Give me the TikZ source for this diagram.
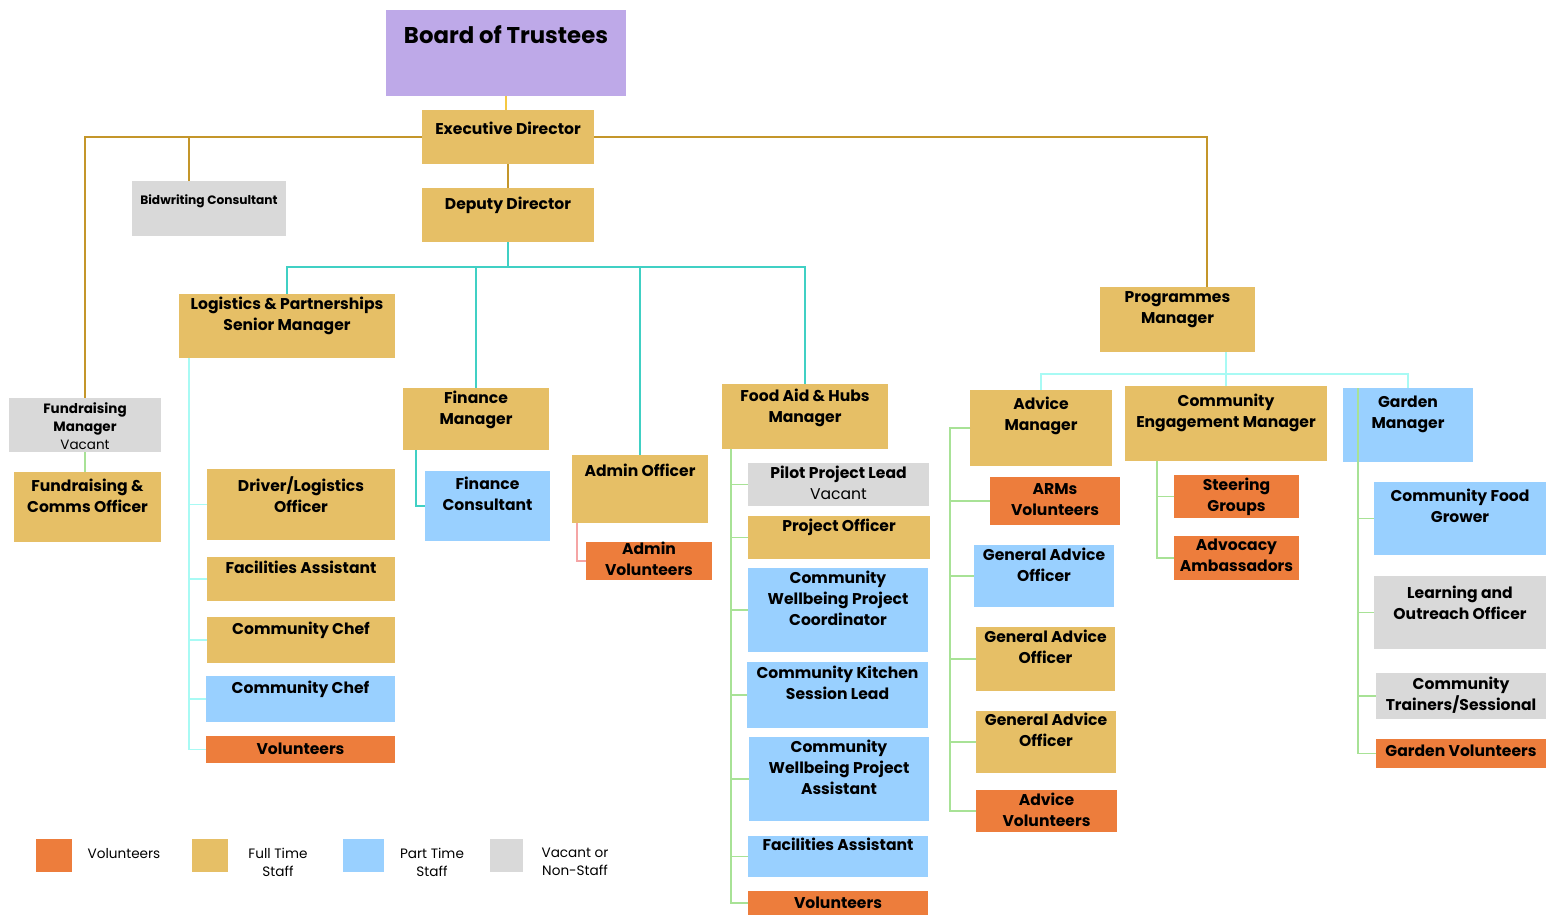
\documentclass[tikz,border=0pt]{standalone}
\usepackage{fontspec}
\setmainfont{Poppins}
\usepackage{xcolor}
\usepackage{tikz}
\usetikzlibrary{fit,calc}

\definecolor{ftyellow}{RGB}{230,191,102}
\definecolor{ptblue}{RGB}{153,208,255}
\definecolor{volorange}{RGB}{237,125,60}
\definecolor{vacgrey}{RGB}{217,217,217}
\definecolor{trustpurple}{RGB}{190,169,232}
\definecolor{goldln}{RGB}{196,150,42}
\definecolor{paleln}{RGB}{245,200,66}
\definecolor{tealln}{RGB}{64,208,196}
\definecolor{aqualn}{RGB}{168,250,244}
\definecolor{greenln}{RGB}{168,226,150}
\definecolor{pinkln}{RGB}{245,165,165}

% box from two corners, label hung from the top
\newcommand{\orgbox}[6][]{%
  \node[#3, fit={#4}] (#2) {};
  \node[lbl, #1, anchor=north] (#2t) at ($(#2.north |- 0,#5)+(0,-6)$) {#6};
}

\begin{document}
\begin{tikzpicture}[
  x=1pt, y=-1pt,
  box/.style={inner sep=0, outer sep=0},
  fulltime/.style={box, fill=ftyellow},
  parttime/.style={box, fill=ptblue},
  vol/.style={box, fill=volorange},
  vacant/.style={box, fill=vacgrey},
  trustee/.style={box, fill=trustpurple},
  lbl/.style={font=\bfseries\fontsize{15.6}{21}\selectfont, align=center, inner sep=0},
  small/.style={font=\bfseries\fontsize{13.5}{18}\selectfont},
  tiny/.style={font=\bfseries\fontsize{12.2}{14}\selectfont},
  big/.style={font=\bfseries\fontsize{22.8}{26}\selectfont},
  legtext/.style={font=\fontsize{13.6}{18}\selectfont, align=center, inner sep=0},
  goldline/.style={draw=goldln, line width=1.6},
  paleline/.style={draw=paleln, line width=1.6},
  tealline/.style={draw=tealln, line width=1.8},
  aqualine/.style={draw=aqualn, line width=1.8},
  greenline/.style={draw=greenln, line width=1.8},
  pinkline/.style={draw=pinkln, line width=1.8}
]
\useasboundingbox (0,0) rectangle (1546,915);

% top
\orgbox[big]{bot}{trustee}{(386,10) (626,96)}{31}{Board of Trustees}
\orgbox{ed}{fulltime}{(422,110) (594,164)}{128}{Executive Director}
\orgbox{dd}{fulltime}{(422,188) (594,242)}{203}{Deputy Director}
\orgbox[tiny]{bw}{vacant}{(132,181) (286,236)}{201}{Bidwriting Consultant}

% fundraising
\orgbox[small]{frm}{vacant}{(9,398) (161,452)}{408}{Fundraising\\Manager\\\mdseries Vacant}
\orgbox{frc}{fulltime}{(14,472) (161,542)}{485}{Fundraising \&\\Comms Officer}

% logistics
\orgbox{lsm}{fulltime}{(179,294) (395,358)}{303}{Logistics \& Partnerships\\Senior Manager}
\orgbox{dlo}{fulltime}{(207,469) (395,540)}{482}{Driver/Logistics\\Officer}
\orgbox{fa1}{fulltime}{(207,557) (395,601)}{567}{Facilities Assistant}
\orgbox{cc1}{fulltime}{(207,617) (395,663)}{628}{Community Chef}
\orgbox{cc2}{parttime}{(206,676) (395,722)}{687}{Community Chef}
\orgbox{lv}{vol}{(206,736) (395,763)}{749}{Volunteers}

% finance and admin
\orgbox{fim}{fulltime}{(403,388) (549,450)}{397}{Finance\\Manager}
\orgbox{fic}{parttime}{(425,471) (550,541)}{483}{Finance\\Consultant}
\orgbox{ao}{fulltime}{(572,455) (708,523)}{470}{Admin Officer}
\orgbox{av}{vol}{(586,542) (712,580)}{548}{Admin\\Volunteers}

% food aid
\orgbox{fah}{fulltime}{(722,384) (888,449)}{395}{Food Aid \& Hubs\\Manager}
\orgbox{ppl}{vacant}{(748,463) (929,506)}{472}{Pilot Project Lead\\\mdseries Vacant}
\orgbox{po}{fulltime}{(748,516) (930,559)}{525}{Project Officer}
\orgbox{cwc}{parttime}{(748,568) (928,652)}{577}{Community\\Wellbeing Project\\Coordinator}
\orgbox{cks}{parttime}{(747,662) (928,728)}{672}{Community Kitchen\\Session Lead}
\orgbox{cwa}{parttime}{(749,737) (929,821)}{746}{Community\\Wellbeing Project\\Assistant}
\orgbox{fa2}{parttime}{(748,836) (928,877)}{844}{Facilities Assistant}
\orgbox{fv}{vol}{(748,891) (928,915)}{903}{Volunteers}

% programmes
\orgbox{pm}{fulltime}{(1100,287) (1255,352)}{297}{Programmes\\Manager}
\orgbox{am}{fulltime}{(970,390) (1112,466)}{403}{Advice\\Manager}
\orgbox{cem}{fulltime}{(1125,386) (1327,461)}{400}{Community\\Engagement Manager}
\orgbox{gm}{parttime}{(1343,388) (1473,462)}{402}{Garden\\Manager}
\orgbox{arm}{vol}{(990,477) (1120,525)}{489}{ARMs\\Volunteers}
\orgbox{ga1}{parttime}{(974,545) (1114,607)}{554}{General Advice\\Officer}
\orgbox{ga2}{fulltime}{(976,627) (1115,691)}{636}{General Advice\\Officer}
\orgbox{ga3}{fulltime}{(976,711) (1116,773)}{719}{General Advice\\Officer}
\orgbox{adv}{vol}{(976,790) (1117,832)}{799}{Advice\\Volunteers}
\orgbox{sg}{vol}{(1174,475) (1299,518)}{484}{Steering\\Groups}
\orgbox{aa}{vol}{(1174,536) (1299,580)}{545}{Advocacy\\Ambassadors}
\orgbox{cfg}{parttime}{(1374,482) (1546,555)}{495}{Community Food\\Grower}
\orgbox{loo}{vacant}{(1374,576) (1546,649)}{592}{Learning and\\Outreach Officer}
\orgbox{cts}{vacant}{(1376,673) (1546,719)}{683}{Community\\Trainers/Sessional}
\orgbox{gv}{vol}{(1376,739) (1546,768)}{751}{Garden Volunteers}

% lines from the top
\draw[paleline] (bot.south) -- (bot.south |- ed.north);
\draw[goldline] (ed.south) -- (dd.north);
\draw[goldline] (ed.west) -| (frm.north);
\coordinate (bwT) at (189,181);
\draw[goldline] (ed.west -| bwT) -- (bwT);
\coordinate (pmT) at (1207,287);
\draw[goldline] (ed.east) -| (pmT);
\draw[greenline] (frm.south) -- (frm.south |- frc.north);

% deputy's team
\foreach \c in {lsm,fim,ao,fah}
  \draw[tealline] (dd.south) -- ++(0,25) -| (\c.north);
\draw[tealline] (fim.south -| 416,0) |- (fic.west);
\draw[pinkline] (ao.south -| 577,0) |- (av.west);
\foreach \c in {dlo,fa1,cc1,cc2,lv}
  \draw[aqualine] (lsm.south -| 189,0) |- (\c.west);
\foreach \c in {ppl,po,cwc,cks,cwa,fa2,fv}
  \draw[greenline] (fah.south -| 731,0) |- (\c.west);

% programmes team
\draw[aqualine] (am.north) -- ++(0,-16) -| (gm.north);
\draw[aqualine] (cem.north) -- (cem.north |- pm.south);
\foreach \c in {arm,ga1,ga2,ga3,adv}
  \draw[greenline] (am.west) -- (am.west -| 950,0) |- (\c.west);
\foreach \c in {sg,aa}
  \draw[greenline] (cem.south -| 1157,0) |- (\c.west);
\foreach \c in {cfg,loo,cts,gv}
  \draw[greenline] (gm.north -| 1358,0) |- (\c.west);

% key
\node[vol, minimum width=36, minimum height=33, anchor=north west] (kv) at (36,839) {};
\node[legtext] (kvt) at (124,854) {Volunteers};
\node[fulltime, minimum width=36, minimum height=33, anchor=north west] (kf) at (192,839) {};
\node[legtext] (kft) at (278,862) {Full Time\\Staff};
\node[parttime, minimum width=41, minimum height=33, anchor=north west] (kp) at (343,839) {};
\node[legtext] (kpt) at (432,862) {Part Time\\Staff};
\node[vacant, minimum width=33, minimum height=33, anchor=north west] (kn) at (490,839) {};
\node[legtext] (knt) at (575,862) {Vacant or\\Non-Staff};
\end{tikzpicture}
\end{document}
